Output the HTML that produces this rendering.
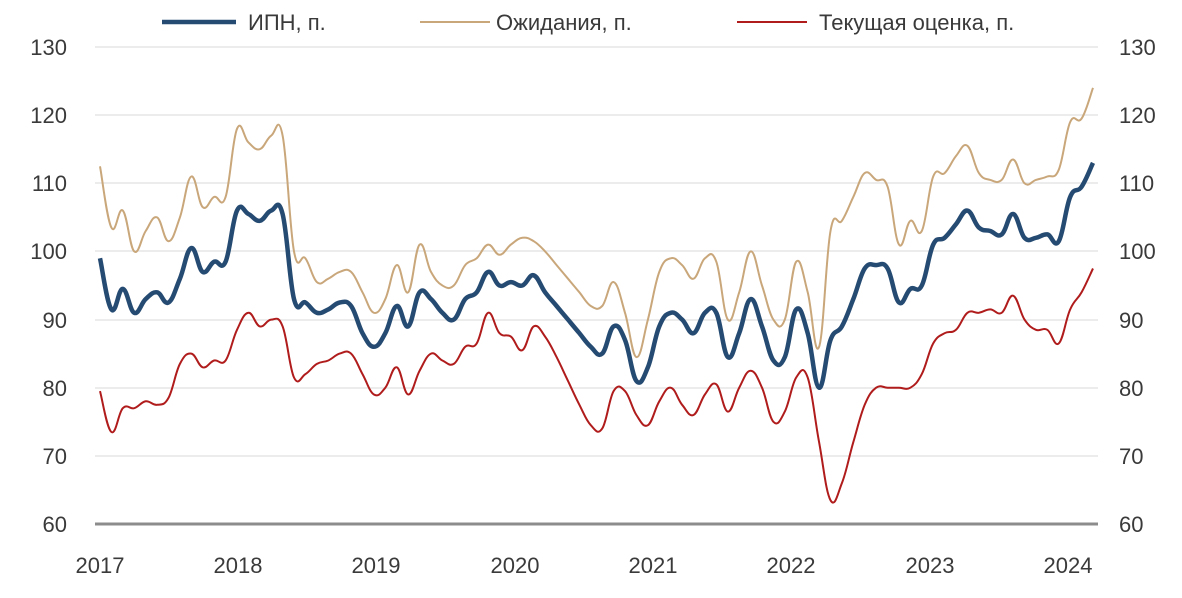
<!DOCTYPE html>
<html><head><meta charset="utf-8"><style>
body{margin:0;background:#fff}
svg text{font-family:"Liberation Sans",sans-serif;fill:#3a3a3a}
</style></head><body>
<svg id="s" width="1182" height="593" xmlns="http://www.w3.org/2000/svg">
<g stroke="#e6e6e6" stroke-width="1.5">
<line x1="95" x2="1098" y1="47" y2="47"/><line x1="95" x2="1098" y1="115" y2="115"/>
<line x1="95" x2="1098" y1="183" y2="183"/><line x1="95" x2="1098" y1="251" y2="251"/>
<line x1="95" x2="1098" y1="320" y2="320"/><line x1="95" x2="1098" y1="388" y2="388"/>
<line x1="95" x2="1098" y1="456" y2="456"/>
</g>
<line x1="95" x2="1098" y1="524" y2="524" stroke="#8c8c8c" stroke-width="3"/>
<g font-size="22" text-anchor="end">
<text x="67" y="55">130</text><text x="67" y="123">120</text><text x="67" y="191">110</text>
<text x="67" y="259">100</text><text x="67" y="328">90</text><text x="67" y="396">80</text>
<text x="67" y="464">70</text><text x="67" y="532">60</text></g>
<g font-size="22" text-anchor="start">
<text x="1119" y="55">130</text><text x="1119" y="123">120</text><text x="1119" y="191">110</text>
<text x="1119" y="259">100</text><text x="1119" y="328">90</text><text x="1119" y="396">80</text>
<text x="1119" y="464">70</text><text x="1119" y="532">60</text></g>
<g font-size="22" text-anchor="middle">
<text x="100" y="573">2017</text><text x="238" y="573">2018</text><text x="376" y="573">2019</text>
<text x="515" y="573">2020</text><text x="653" y="573">2021</text><text x="791" y="573">2022</text>
<text x="930" y="573">2023</text><text x="1068" y="573">2024</text></g>
<g font-size="22">
<line x1="162" x2="236" y1="22" y2="22" stroke="#264b72" stroke-width="4.5"/>
<text x="248" y="30" fill="#333">ИПН, п.</text>
<line x1="420" x2="490" y1="22" y2="22" stroke="#c9a77b" stroke-width="2"/>
<text x="496" y="30" fill="#333">Ожидания, п.</text>
<line x1="737" x2="807" y1="22" y2="22" stroke="#b01c1c" stroke-width="2"/>
<text x="819" y="30" fill="#333">Текущая оценка, п.</text>
</g>
<path id="pe" fill="none" stroke="#c9a77b" stroke-width="2"/>
<path id="pc" fill="none" stroke="#b01c1c" stroke-width="2"/>
<path id="pi" fill="none" stroke="#264b72" stroke-width="4.5"/>
</svg>
<script>
var I=[99,91.5,94.5,91,93,94,92.5,96,100.5,97,98.5,98.5,106,105.5,104.5,106,105.5,93,92.5,91,91.5,92.5,92,88,86,88,92,89,94,93,91,90,93,94,97,95,95.5,95,96.5,94,92,90,88,86,85,89,87,81,83,89,91,90,88,91,91,84.5,88,93,89,84,84.5,91.5,88,80,87,89,93,97.5,98,97.5,92.5,94.5,95,101,102,104,106,103.5,103,102.5,105.5,102,102,102.5,101.5,108,109.5,113];
var E=[112.5,103.5,106,100,103,105,101.5,105,111,106.5,108,108,118,116,115,117,117,100,99,95.5,96,97,97,94,91,93,98,94,101,97,95,95,98,99,101,99.5,101,102,101.5,100,98,96,94,92,92,95.5,91,84.5,90,97,99,98,96,99,98.5,90,94,100,95,90,90,98.5,94,86,103,104.5,108,111.5,110.5,109.5,101,104.5,103,111,111.5,114,115.5,111.5,110.5,110.5,113.5,110,110.5,111,112,119,119.5,124];
var C=[79.5,73.5,77,77,78,77.5,78.5,83.5,85,83,84,84,88.5,91,89,90,89,81.5,82,83.5,84,85,85,82,79,80,83,79,82.5,85,84,83.5,86,86.5,91,88,87.5,85.5,89,87.5,84.5,81,77.5,74.5,74,79.5,79.5,76,74.5,78,80,77.5,76,79,80.5,76.5,80,82.5,80,75,76.5,81.5,81.5,72,63.5,66,72,77.5,80,80,80,80,82,86.5,88,88.5,91,91,91.5,91,93.5,90,88.5,88.5,86.5,91.5,94,97.5];
function P(a){var s=(1093-100)/(a.length-1);var p=a.map(function(v,i){return [100+i*s,524-(v-60)*6.814]});
var d="M"+p[0][0].toFixed(1)+" "+p[0][1].toFixed(1);
for(var i=0;i<p.length-1;i++){var p0=p[i-1]||p[i],p1=p[i],p2=p[i+1],p3=p[i+2]||p2;
var t=0.2;d+=" C"+(p1[0]+(p2[0]-p0[0])*t).toFixed(1)+" "+(p1[1]+(p2[1]-p0[1])*t).toFixed(1)+" "+(p2[0]-(p3[0]-p1[0])*t).toFixed(1)+" "+(p2[1]-(p3[1]-p1[1])*t).toFixed(1)+" "+p2[0].toFixed(1)+" "+p2[1].toFixed(1);}
return d;}
document.getElementById("pi").setAttribute("d",P(I));
document.getElementById("pe").setAttribute("d",P(E));
document.getElementById("pc").setAttribute("d",P(C));
</script>
</body></html>
